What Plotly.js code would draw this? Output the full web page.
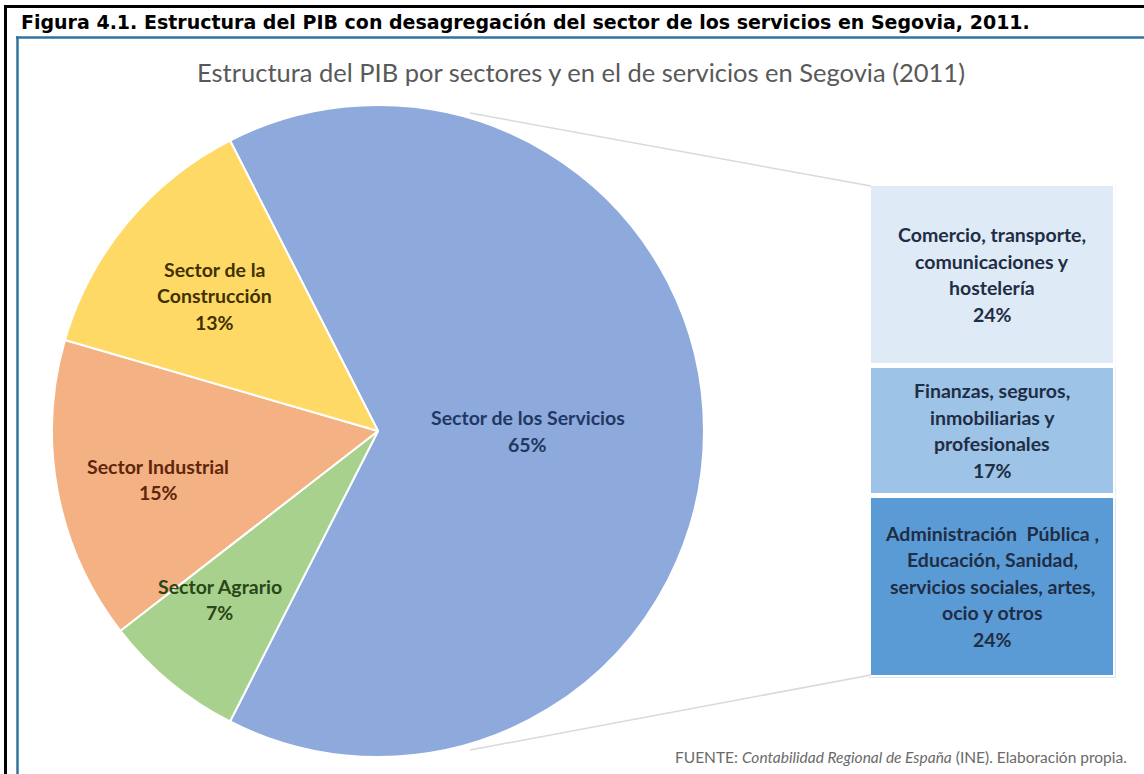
<!DOCTYPE html>
<html>
<head>
<meta charset="utf-8">
<script src="https://cdn.plot.ly/plotly-3.0.1.min.js"></script>
<style>
  html, body { margin: 0; padding: 0; background: #ffffff; }
  #chart { width: 1144px; height: 774px; }
</style>
</head>
<body>
<div id="chart"></div>
<script>
// ---------- data ----------
const sectors = ['Sector de los Servicios', 'Sector Agrario', 'Sector Industrial', 'Sector de la Construcción'];
const sectorValues = [65, 7, 15, 13];
const sectorLabelLines = [
  ['Sector de los Servicios'],
  ['Sector Agrario'],
  ['Sector Industrial'],
  ['Sector de la', 'Construcción']
];

const services = [
  'Administración Pública , Educación, Sanidad, servicios sociales, artes, ocio y otros',
  'Finanzas, seguros, inmobiliarias y profesionales',
  'Comercio, transporte, comunicaciones y hostelería'
];
const serviceValues = [24, 17, 24];
const serviceLabelLines = [
  ['Administración  Pública ,', 'Educación, Sanidad,', 'servicios sociales, artes,', 'ocio y otros'],
  ['Finanzas, seguros,', 'inmobiliarias y', 'profesionales'],
  ['Comercio, transporte,', 'comunicaciones y', 'hostelería']
];

const chartTitle = 'Estructura del PIB por sectores y en el de servicios en Segovia (2011)';
const figureCaption = 'Figura 4.1. Estructura del PIB con desagregación del sector de los servicios en Segovia, 2011.';
const sourceNote = 'FUENTE: <i>Contabilidad Regional de España</i> (INE). Elaboración propia.';

// ---------- styles ----------
const W = 1144, H = 774;
const px = x => x / W;
const py = y => 1 - y / H;

const pieColors = ['#8EA9DB', '#A9D18E', '#F4B183', '#FFD966'];
const pieTextColors = ['#1F3864', '#2A4716', '#5E260A', '#3F3200'];
const barColors = ['#5B9BD5', '#9DC3E6', '#DEEAF6'];
const barTextColor = '#1F2D45';
const labelFont = 'Lato, "Open Sans", sans-serif';
const labelSize = 19.5;
const lineGap = 26.5;

// pie geometry (pixels)
const pieCx = 378, pieCy = 431, pieR = 326;
const pieRotation = -27;
const labelRadius = [0.46, 0.71, 0.69, 0.65];
const labelAngleShift = [0, 3.6, -1.6, 0];

const annotations = [];

// pie labels positioned from the cumulative values
const total = sectorValues.reduce((a, b) => a + b, 0);
let acc = 0;
sectorValues.forEach((v, i) => {
  const a0 = pieRotation + acc / total * 360;
  acc += v;
  const a1 = pieRotation + acc / total * 360;
  const mid = ((a0 + a1) / 2 + labelAngleShift[i]) * Math.PI / 180;
  const lx = pieCx + labelRadius[i] * pieR * Math.sin(mid);
  const ly = pieCy - labelRadius[i] * pieR * Math.cos(mid);
  const lines = sectorLabelLines[i].concat([Math.round(v / total * 100) + '%']);
  const n = lines.length;
  lines.forEach((t, k) => {
    annotations.push({
      xref: 'paper', yref: 'paper', x: px(lx), y: py(ly),
      xanchor: 'center', yanchor: 'middle', showarrow: false,
      yshift: -(k - (n - 1) / 2) * lineGap,
      text: '<b>' + t + '</b>',
      font: { family: labelFont, size: labelSize, color: pieTextColors[i] }
    });
  });
});

// bar labels placed at segment centres via the y axis
let cum = 0;
serviceValues.forEach((v, i) => {
  const mid = cum + v / 2;
  cum += v;
  const lines = serviceLabelLines[i].concat([v + '%']);
  const n = lines.length;
  lines.forEach((t, k) => {
    annotations.push({
      xref: 'x', yref: 'y', x: 'Servicios', y: mid,
      xanchor: 'center', yanchor: 'middle', showarrow: false,
      yshift: -(k - (n - 1) / 2) * lineGap,
      text: '<b>' + t + '</b>',
      font: { family: labelFont, size: labelSize, color: barTextColor }
    });
  });
});

// title, caption, source
annotations.push({
  xref: 'paper', yref: 'paper', x: px(581), y: py(72),
  xanchor: 'center', yanchor: 'middle', showarrow: false,
  text: chartTitle, font: { family: labelFont, size: 25.5, color: '#595959' }
});
annotations.push({
  xref: 'paper', yref: 'paper', x: px(19), y: py(22),
  xanchor: 'left', yanchor: 'middle', showarrow: false,
  text: '<b>' + figureCaption + '</b>',
  font: { family: '"DejaVu Sans", Verdana, sans-serif', size: 19, color: '#000000' }
});
annotations.push({
  xref: 'paper', yref: 'paper', x: px(1129), y: py(757),
  xanchor: 'right', yanchor: 'middle', showarrow: false,
  text: sourceNote, font: { family: labelFont, size: 15.5, color: '#6a6a6a' }
});

const traces = [
  {
    type: 'pie',
    labels: sectors,
    values: sectorValues,
    sort: false,
    direction: 'clockwise',
    rotation: pieRotation,
    marker: { colors: pieColors, line: { color: '#ffffff', width: 2 } },
    textinfo: 'none',
    hoverinfo: 'none',
    showlegend: false,
    domain: { x: [px(pieCx - pieR), px(pieCx + pieR)], y: [py(pieCy + pieR), py(pieCy - pieR)] }
  }
];
services.forEach((s, i) => {
  traces.push({
    type: 'bar',
    x: ['Servicios'],
    y: [serviceValues[i]],
    name: s,
    marker: { color: barColors[i], line: { color: '#ffffff', width: 5 } },
    hoverinfo: 'none',
    showlegend: false
  });
});

const layout = {
  width: W, height: H,
  margin: { l: 0, r: 0, t: 0, b: 0 },
  paper_bgcolor: '#ffffff',
  plot_bgcolor: 'rgba(0,0,0,0)',
  barmode: 'stack',
  bargap: 0,
  xaxis: { domain: [px(868.5), px(1115.5)], visible: false, fixedrange: true },
  yaxis: { domain: [py(677.5), py(183.5)], range: [0, 65], visible: false, fixedrange: true },
  annotations: annotations,
  shapes: [
    // outer black frame
    { type: 'line', xref: 'paper', yref: 'paper', x0: px(4), x1: 1, y0: py(6.5), y1: py(6.5), line: { color: '#000000', width: 3 } },
    { type: 'line', xref: 'paper', yref: 'paper', x0: px(5.5), x1: px(5.5), y0: py(5), y1: 0, line: { color: '#000000', width: 3 } },
    // blue chart frame
    { type: 'line', xref: 'paper', yref: 'paper', x0: px(16), x1: 1, y0: py(37.5), y1: py(37.5), line: { color: '#31739C', width: 2.5 } },
    { type: 'line', xref: 'paper', yref: 'paper', x0: px(17.5), x1: px(17.5), y0: py(36.5), y1: 0, line: { color: '#31739C', width: 2.5 } },
    // connector lines pie -> bar
    { type: 'line', xref: 'paper', yref: 'paper', x0: px(470), y0: py(113), x1: px(871), y1: py(186), line: { color: '#D9D9D9', width: 1.5 } },
    { type: 'line', xref: 'paper', yref: 'paper', x0: px(470), y0: py(750), x1: px(871), y1: py(675), line: { color: '#D9D9D9', width: 1.5 } }
  ]
};

Plotly.newPlot('chart', traces, layout, { displayModeBar: false, staticPlot: true });
</script>
</body>
</html>
